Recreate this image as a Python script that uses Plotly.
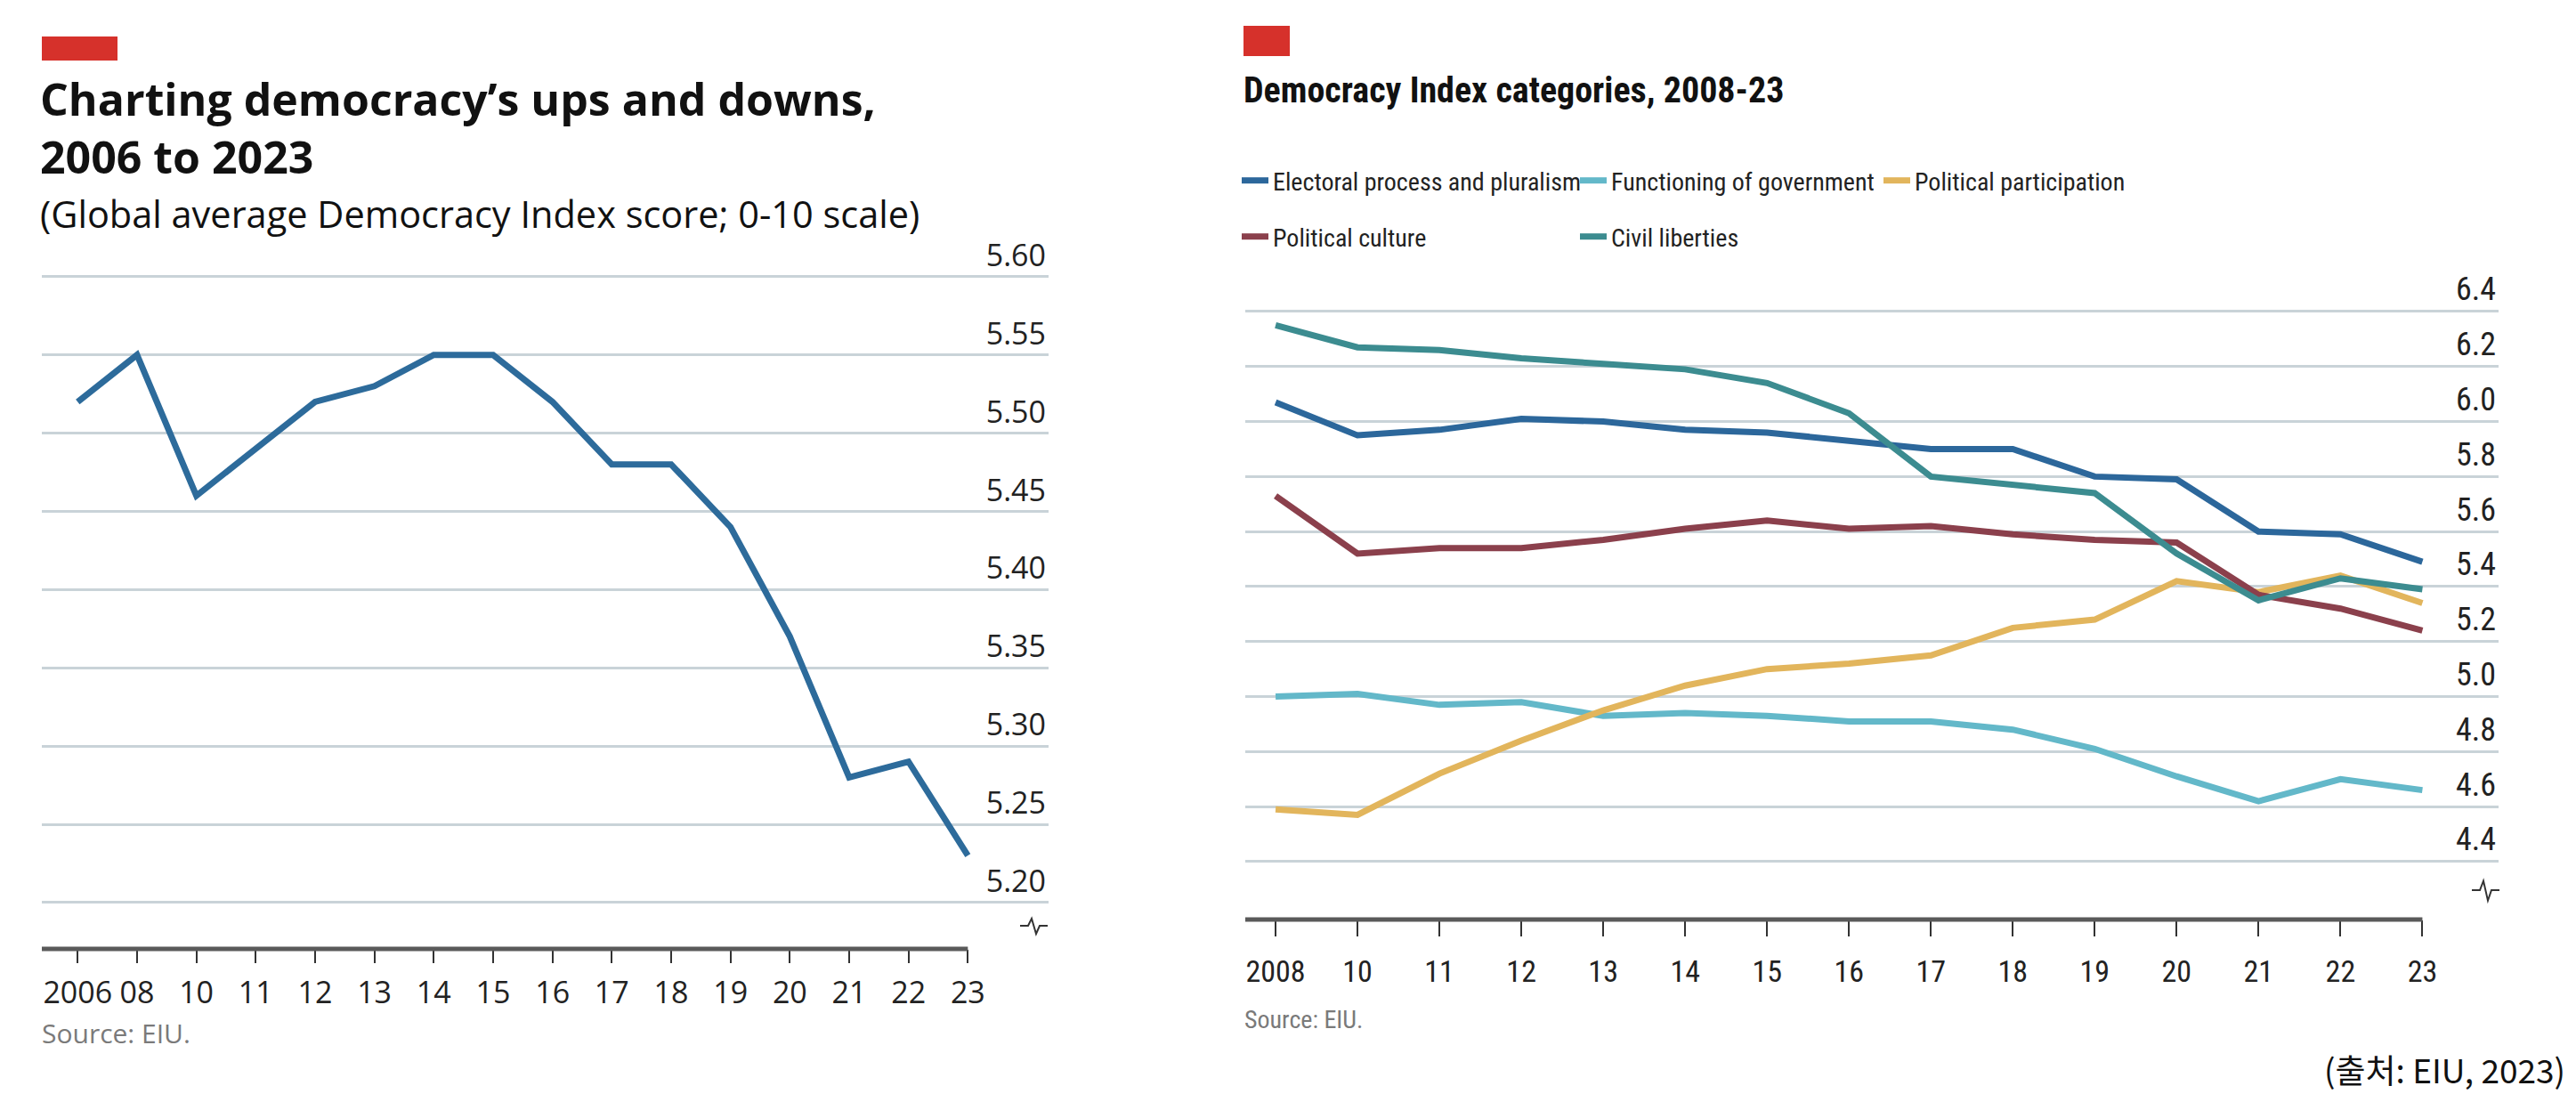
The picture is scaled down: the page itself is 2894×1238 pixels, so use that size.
import plotly.graph_objects as go

# ---------------- data ----------------
years_left = ["2006", "08", "10", "11", "12", "13", "14", "15", "16", "17",
              "18", "19", "20", "21", "22", "23"]
global_score = [5.52, 5.55, 5.46, 5.49, 5.52, 5.53, 5.55, 5.55, 5.52, 5.48,
                5.48, 5.44, 5.37, 5.28, 5.29, 5.23]
left_ticks = [5.20, 5.25, 5.30, 5.35, 5.40, 5.45, 5.50, 5.55, 5.60]

years_right = ["2008", "10", "11", "12", "13", "14", "15", "16", "17", "18",
               "19", "20", "21", "22", "23"]
electoral = [6.07, 5.95, 5.97, 6.01, 6.00, 5.97, 5.96, 5.93, 5.90, 5.90, 5.80, 5.79, 5.60, 5.59, 5.49]
functioning = [5.00, 5.01, 4.97, 4.98, 4.93, 4.94, 4.93, 4.91, 4.91, 4.88, 4.81, 4.71, 4.62, 4.70, 4.66]
participation = [4.59, 4.57, 4.72, 4.84, 4.95, 5.04, 5.10, 5.12, 5.15, 5.25, 5.28, 5.42, 5.38, 5.44, 5.34]
culture = [5.73, 5.52, 5.54, 5.54, 5.57, 5.61, 5.64, 5.61, 5.62, 5.59, 5.57, 5.56, 5.37, 5.32, 5.24]
civil = [6.35, 6.27, 6.26, 6.23, 6.21, 6.19, 6.14, 6.03, 5.80, 5.77, 5.74, 5.52, 5.35, 5.43, 5.39]
right_ticks = [4.4, 4.6, 4.8, 5.0, 5.2, 5.4, 5.6, 5.8, 6.0, 6.2, 6.4]

series_names = ["Electoral process and pluralism", "Functioning of government",
                "Political participation", "Political culture", "Civil liberties"]
series_values = [electoral, functioning, participation, culture, civil]
series_colors = ["#2c679b", "#63b8c9", "#e2b55c", "#8b404c", "#3c8c90"]

# ---------------- helpers (reference pixel -> paper) ----------------
OFF = 8                      # page body margin
W, H = 2894 - 2 * OFF, 1238 - 2 * OFF

def px(x):
    return (x - OFF) / W

def py(y):
    return 1 - (y - OFF) / H

LEFT_FONT = "Open Sans, Lato, sans-serif"
RIGHT_FONT = "Roboto Condensed, DejaVu Sans Condensed, Liberation Sans Narrow, Roboto, sans-serif"
GRID = "#c9d3d8"
AXIS = "#5a5a5a"

fig = go.Figure()

fig.add_trace(go.Scatter(x=years_left, y=global_score, mode="lines",
                         line=dict(color="#2d6b9b", width=7),
                         xaxis="x", yaxis="y", showlegend=False))

legend_ids = ["legend", "legend2", "legend3", "legend4", "legend5"]
for name, vals, col, lg in zip(series_names, series_values, series_colors, legend_ids):
    fig.add_trace(go.Scatter(x=years_right, y=vals, mode="lines", name=name,
                             line=dict(color=col, width=7),
                             xaxis="x2", yaxis="y2", legend=lg))

L_y0, L_y1 = 5.1704, 5.63
R_y0, R_y1 = 4.1896, 6.56

fig.update_layout(
    width=W, height=H,
    margin=dict(l=0, r=0, t=0, b=0),
    paper_bgcolor="white", plot_bgcolor="white",
    xaxis=dict(domain=[px(47), px(1178)], type="category",
               range=[-0.604, 16.36], showgrid=False, zeroline=False,
               showline=False, ticks="outside", ticklen=15, tickwidth=2,
               tickcolor="#333", ticklabelstandoff=4,
               tickfont=dict(family=LEFT_FONT, size=34, color="#222"),
               anchor="y"),
    yaxis=dict(domain=[py(1066), py(1066 - (L_y1 - L_y0) / 0.05 * 87.9)],
               range=[L_y0, L_y1], side="right", anchor="x",
               tickmode="array", tickvals=left_ticks,
               ticktext=[f"{v:.2f}" for v in left_ticks],
               ticklabelposition="inside top", ticks="",
               showgrid=True, gridcolor=GRID, gridwidth=2.5,
               zeroline=False, showline=False,
               tickfont=dict(family=LEFT_FONT, size=34, color="#222")),
    xaxis2=dict(domain=[px(1399), px(2807)], type="category",
                range=[-0.37, 14.93], showgrid=False, zeroline=False,
                showline=False, ticks="outside", ticklen=18, tickwidth=2,
                tickcolor="#333", ticklabelstandoff=10,
                tickfont=dict(family=RIGHT_FONT, size=34, color="#222"),
                anchor="y2"),
    yaxis2=dict(domain=[py(1033), py(1033 - (R_y1 - R_y0) / 0.2 * 61.8)],
                range=[R_y0, R_y1], side="right", anchor="x2",
                tickmode="array", tickvals=right_ticks,
                ticktext=[f"{v:.1f}" for v in right_ticks],
                ticklabelposition="inside top", ticks="",
                showgrid=True, gridcolor=GRID, gridwidth=2.5,
                zeroline=False, showline=False,
                tickfont=dict(family=RIGHT_FONT, size=36, color="#222")),
)

legend_pos = [(1390, 203), (1770, 203), (2111, 203), (1390, 266), (1770, 266)]
for lg, (lx, ly) in zip(legend_ids, legend_pos):
    fig.update_layout({lg: dict(x=px(lx), y=py(ly), xanchor="left", yanchor="middle",
                                orientation="h", bgcolor="rgba(0,0,0,0)",
                                font=dict(family=RIGHT_FONT, size=28, color="#222"),
                                itemwidth=30, tracegroupgap=0)})

shapes = [
    dict(type="rect", xref="paper", yref="paper", x0=px(47), x1=px(132),
         y0=py(68), y1=py(41), fillcolor="#d6312b", line=dict(width=0)),
    dict(type="rect", xref="paper", yref="paper", x0=px(1397), x1=px(1449),
         y0=py(63), y1=py(29), fillcolor="#d6312b", line=dict(width=0)),
    dict(type="line", xref="x", yref="y domain", x0=-0.604, x1=15, y0=0, y1=0,
         line=dict(color=AXIS, width=5)),
    dict(type="line", xref="x2", yref="y2 domain", x0=-0.37, x1=14, y0=0, y1=0,
         line=dict(color=AXIS, width=5)),
]

def zigzag(cx, cy, s=1.0):
    pts = [(-16, 0), (-7, 0), (-3, -8 * s), (2, 9 * s), (6, 0), (15, 0)]
    d = "M " + " L ".join(f"{px(cx + dx)},{py(cy + dy)}" for dx, dy in pts)
    return dict(type="path", xref="paper", yref="paper", path=d,
                line=dict(color="#333", width=2))

shapes.append(zigzag(1162, 1040))
shapes.append(zigzag(2793, 1000, 1.3))
fig.update_layout(shapes=shapes)

annotations = [
    dict(text="Charting democracy’s ups and downs,<br>2006 to 2023",
         x=px(43), y=py(75), xanchor="left", yanchor="top", align="left",
         font=dict(family=LEFT_FONT, size=50, color="#111", weight="bold")),
    dict(text="(Global average Democracy Index score; 0-10 scale)",
         x=px(43), y=py(210), xanchor="left", yanchor="top", align="left",
         font=dict(family=LEFT_FONT, size=41.5, color="#111")),
    dict(text="Source: EIU.", x=px(45), y=py(1160), xanchor="left", yanchor="middle",
         font=dict(family=LEFT_FONT, size=30, color="#7a7a7a")),
    dict(text="Democracy Index categories, 2008-23",
         x=px(1395), y=py(76), xanchor="left", yanchor="top", align="left",
         font=dict(family=RIGHT_FONT, size=40, color="#111", weight="bold")),
    dict(text="Source: EIU.", x=px(1396), y=py(1145), xanchor="left", yanchor="middle",
         font=dict(family=RIGHT_FONT, size=28, color="#7a7a7a")),
    dict(text="(출처: EIU, 2023)", x=px(2884), y=py(1201), xanchor="right", yanchor="middle",
         font=dict(family="Noto Sans CJK KR, sans-serif", size=37, color="#111")),
]
for a in annotations:
    a.update(xref="paper", yref="paper", showarrow=False)
fig.update_layout(annotations=annotations)

fig.write_html("out.html")
